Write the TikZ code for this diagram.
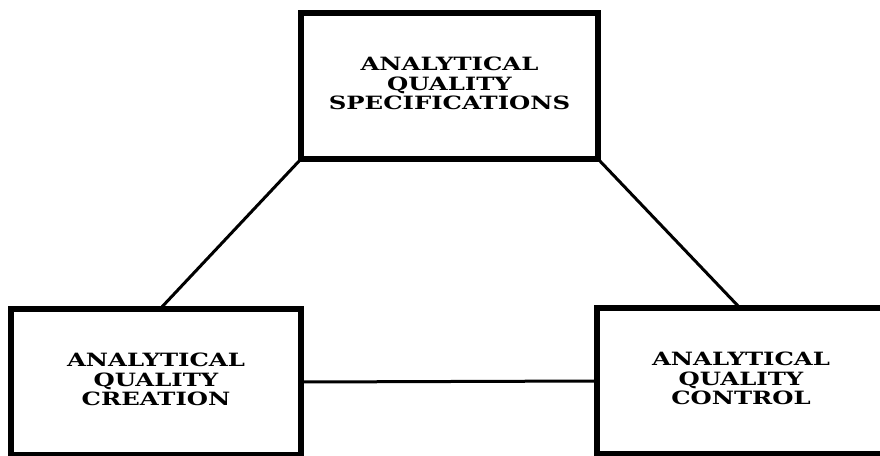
\documentclass[tikz,border=0pt]{standalone}
\usepackage{graphicx}
\usepackage{fontspec}
\newfontfamily\qfont{DejaVu Serif}
\usetikzlibrary{calc}
\newcommand{\boxtext}[2]{\raisebox{#1}{\scalebox{1.33}[1]{\qfont\fontsize{18.3}{18.5}\selectfont\bfseries\begin{tabular}{@{}c@{}}#2\end{tabular}}}}
\tikzset{
  qbox/.style={draw=black, line width=6.5pt, rectangle, inner sep=0pt, outer sep=0pt, fill=white},
  link/.style={draw=black, line width=3pt}
}
\begin{document}
\begin{tikzpicture}[x=1pt, y=-1pt]
\useasboundingbox (0,0) rectangle (880,455);
\clip (0,0) rectangle (880,455);
\fill[white] (0,0) rectangle (880,455);
\node[qbox, minimum width=297pt, minimum height=146pt] (spec) at (449.5,86) {\boxtext{-5pt}{ANALYTICAL\\QUALITY\\SPECIFICATIONS}};
\node[qbox, minimum width=290pt, minimum height=146pt] (create) at (156,382) {\boxtext{1pt}{ANALYTICAL\\QUALITY\\CREATION}};
\node[qbox, minimum width=288pt, minimum height=146pt] (control) at (741,381) {\boxtext{-5pt}{ANALYTICAL\\QUALITY\\CONTROL}};
\draw[link] (spec.south west) -- ($(create.north west)+(149,0)$);
\draw[link] (spec.south east) -- ($(control.north west)+(143,0)$);
\draw[link] (create.east) -- (control.west);
\end{tikzpicture}
\end{document}
